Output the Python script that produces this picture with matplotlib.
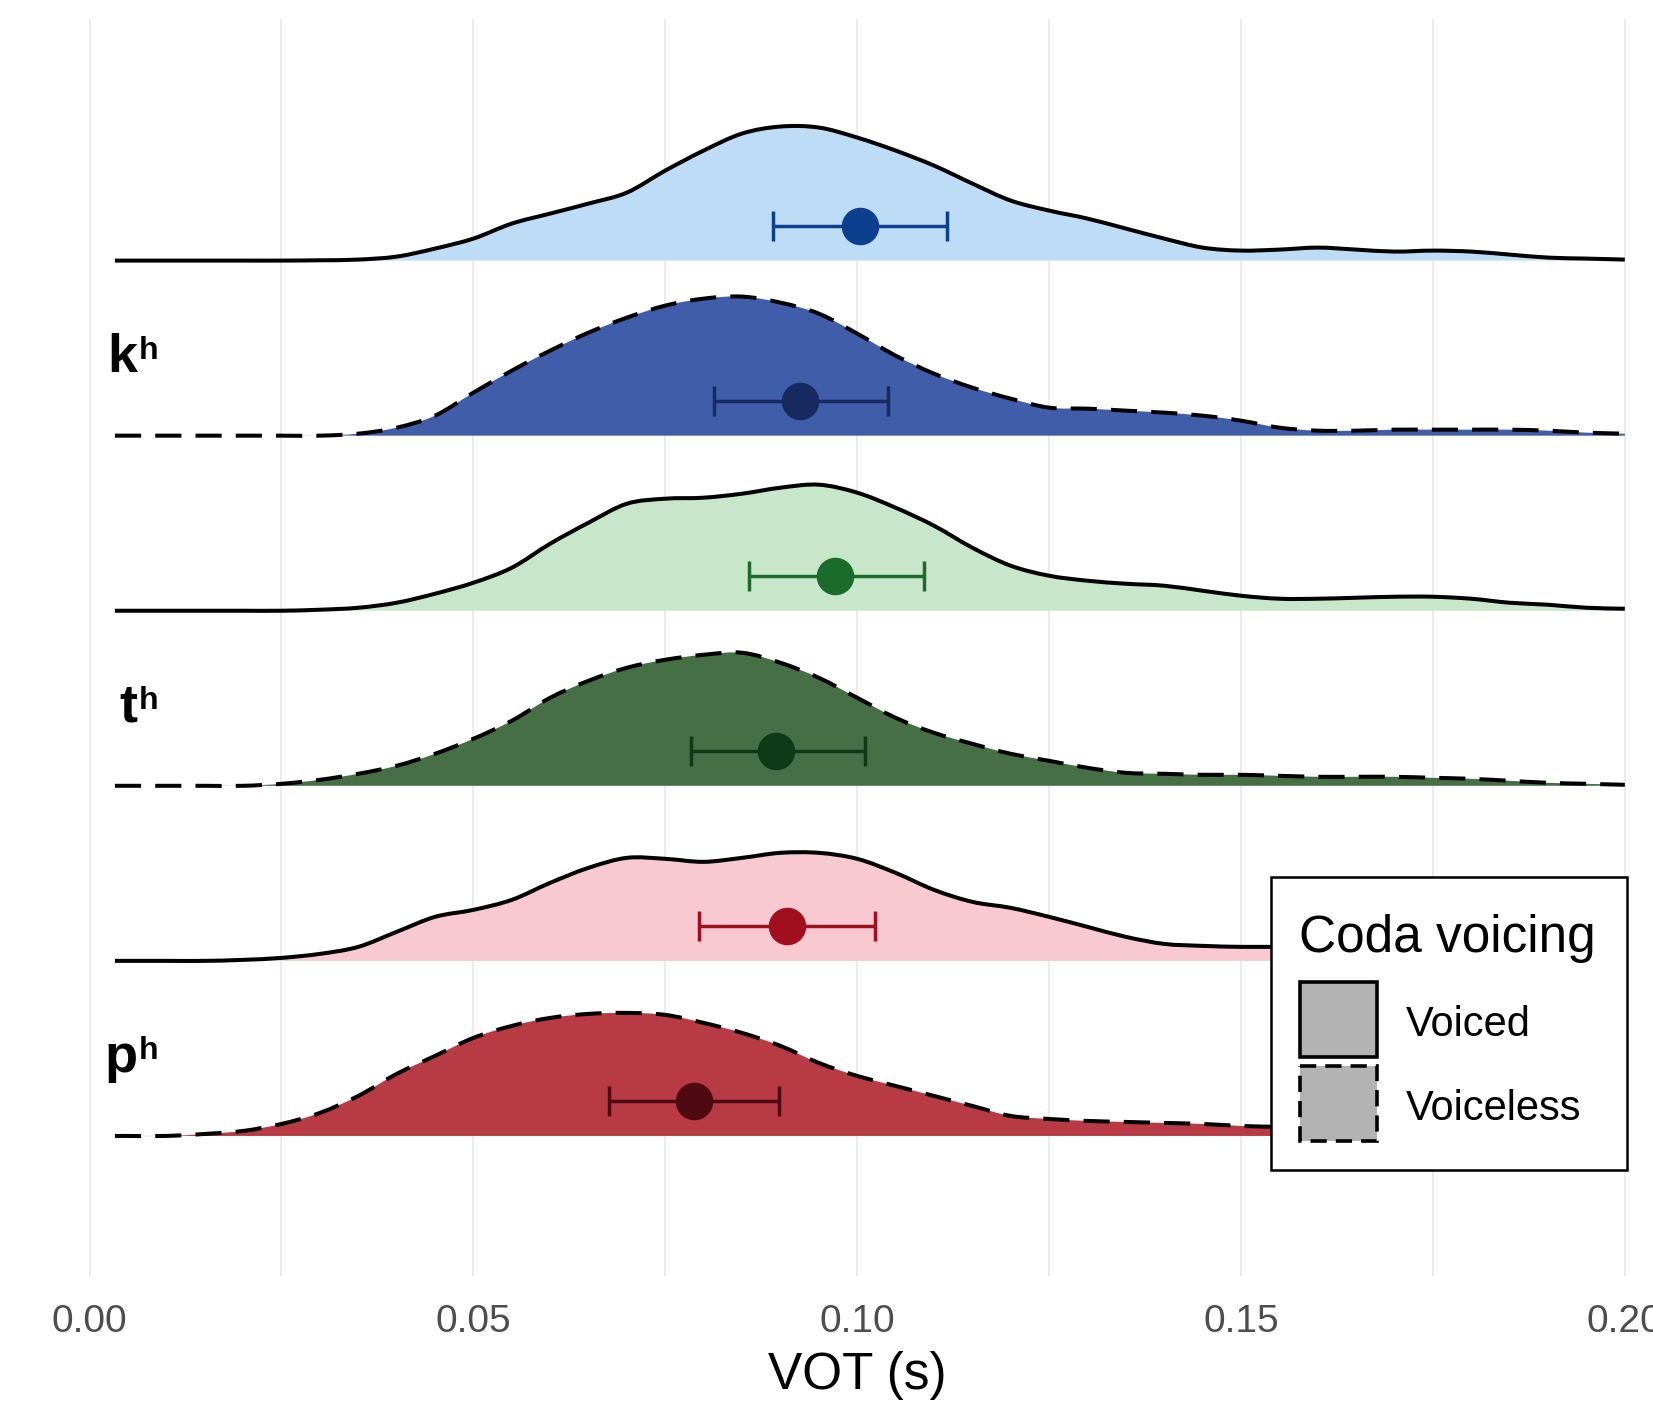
import matplotlib
matplotlib.use('Agg')
import matplotlib.pyplot as plt
from matplotlib.patches import Rectangle, PathPatch
from matplotlib.path import Path

plt.rcParams['font.family'] = ['Liberation Sans', 'DejaVu Sans']

# ---------------- data ----------------
vot = [0.0033, 0.005, 0.010, 0.015, 0.020, 0.025, 0.030, 0.035, 0.040, 0.045,
       0.050, 0.055, 0.060, 0.065, 0.070, 0.075, 0.080, 0.085, 0.090, 0.095,
       0.100, 0.105, 0.110, 0.115, 0.120, 0.125, 0.130, 0.135, 0.140, 0.145,
       0.150, 0.155, 0.160, 0.165, 0.170, 0.175, 0.180, 0.185, 0.190, 0.195, 0.200]

# ridge heights (relative density, 175 = one ridge spacing)
dens_k_voiced = [0, 0, 0, 0, 0, 0, 0.3, 1, 4, 12,
                 22, 37, 47, 57, 68, 90, 110, 127, 134, 133,
                 123, 110, 95, 77, 60, 50, 42, 32, 22, 13,
                 10, 11, 13, 11, 9, 10, 9, 6, 3, 2, 1]
dens_k_voiceless = [0, 0, 0, 0, 0, 0, 0, 2, 8, 20,
                    43, 65, 85, 103, 118, 130, 137, 139, 133, 122,
                    102, 80, 62, 48, 37, 28, 27, 25, 23, 20,
                    15, 8, 5, 5, 6, 6, 6, 6, 5, 3, 2]
dens_t_voiced = [0, 0, 0, 0, 0, 0, 1, 3, 8, 17,
                 28, 43, 67, 88, 107, 112, 113, 117, 123, 126,
                 118, 103, 85, 63, 45, 35, 30, 27, 25, 20,
                 15, 12, 12, 13, 14, 14, 12, 8, 6, 3, 2]
dens_t_voiceless = [0, 0, 0, 0, 0, 2, 6, 12, 20, 32,
                    47, 65, 88, 105, 118, 126, 131, 133, 123, 108,
                    88, 68, 53, 42, 32, 25, 18, 13, 12, 11,
                    11, 10, 9, 9, 9, 8, 7, 5, 3, 2, 1]
dens_p_voiced = [0, 0, 0, 0, 1, 3, 7, 14, 29, 44,
                 51, 61, 78, 93, 103, 102, 99, 103, 108, 108,
                 102, 88, 71, 59, 53, 44, 34, 24, 17, 15,
                 14, 14, 13, 12, 11, 10, 8, 6, 4, 3, 2]
dens_p_voiceless = [0, 0, 0, 2, 5, 12, 23, 40, 62, 80,
                    98, 110, 118, 122, 123, 121, 113, 103, 90, 73,
                    60, 50, 40, 30, 20, 17, 15, 14, 13, 12,
                    10, 9, 8, 7, 7, 6, 5, 4, 3, 2, 2]

ridge_density = [dens_k_voiced, dens_k_voiceless, dens_t_voiced,
                 dens_t_voiceless, dens_p_voiced, dens_p_voiceless]
ridge_voicing = ['Voiced', 'Voiceless', 'Voiced', 'Voiceless', 'Voiced', 'Voiceless']
ridge_fill = ['#BFDCF7', '#3F5DA8', '#C8E6C9', '#466F45', '#F9C9D1', '#B83A45']
point_color = ['#0D3F8F', '#172B60', '#1B6B2A', '#0F3A17', '#A10E1E', '#4D0A10']

mean_vot = [0.1004, 0.0926, 0.0971, 0.0894, 0.0908, 0.0787]
ci_low = [0.0890, 0.0813, 0.0859, 0.0783, 0.0794, 0.0677]
ci_high = [0.1117, 0.1040, 0.1087, 0.1010, 0.1023, 0.0898]

phonemes = ['k', 't', 'p']
xticks = [0.00, 0.05, 0.10, 0.15, 0.20]
xtick_labels = ['0.00', '0.05', '0.10', '0.15', '0.20']
minor_ticks = [0.025, 0.075, 0.125, 0.175]


def smooth_path_vertices(xs, ys):
    """Catmull-Rom curve through the given points as cubic Bezier segments."""
    verts = [(xs[0], ys[0])]
    codes = [Path.MOVETO]
    n = len(xs)
    for i in range(n - 1):
        x0, y0 = (xs[i - 1], ys[i - 1]) if i > 0 else (xs[i], ys[i])
        x1, y1 = xs[i], ys[i]
        x2, y2 = xs[i + 1], ys[i + 1]
        x3, y3 = (xs[i + 2], ys[i + 2]) if i + 2 < n else (x2, y2)
        c1 = (x1 + (x2 - x0) / 6, y1 + (y2 - y0) / 6)
        c2 = (x2 - (x3 - x1) / 6, y2 - (y3 - y1) / 6)
        verts += [c1, c2, (x2, y2)]
        codes += [Path.CURVE4] * 3
    return verts, codes


# ---------------- figure ----------------
W, H = 1653, 1405
fig = plt.figure(figsize=(W / 100, H / 100), dpi=100)
ax = fig.add_axes([0, 1 - 1276 / H, 1, (1276 - 19) / H])
xmin, xmax = -89.6 / 7676, (W - 89.6) / 7676
ax.set_xlim(xmin, xmax)
ax.set_ylim(-0.8, 6.38)

SPACING = 175.0
n = len(ridge_density)
for i, dens in enumerate(ridge_density):
    base = n - 1 - i
    top = [base + d / SPACING for d in dens]
    ls = '-' if ridge_voicing[i] == 'Voiced' else (0, (6.5, 3.5))
    verts, codes = smooth_path_vertices(vot, top)
    fill_verts = verts + [(vot[-1], base), (vot[0], base), verts[0]]
    fill_codes = codes + [Path.LINETO, Path.LINETO, Path.CLOSEPOLY]
    ax.add_patch(PathPatch(Path(fill_verts, fill_codes), facecolor=ridge_fill[i],
                           edgecolor='none', lw=0, zorder=2 + i * 0.1))
    ax.add_patch(PathPatch(Path(verts, codes), facecolor='none', edgecolor='black',
                           lw=2.9, ls=ls, zorder=3 + i * 0.1))
    m = mean_vot[i]
    ax.errorbar([m], [base + 0.2], xerr=[[m - ci_low[i]], [ci_high[i] - m]],
                fmt='o', ms=26, color=point_color[i], ecolor=point_color[i],
                elinewidth=2.5, capsize=11, capthick=2.5, zorder=5)

# phoneme labels
for j, ph in enumerate(phonemes):
    base = 4 - 2 * j
    ax.text(0.00625, base + 0.365, ph, fontsize=39, fontweight='bold',
            ha='right', va='baseline', zorder=6)
    ax.text(0.00640, base + 0.437, 'h', fontsize=23, fontweight='bold',
            ha='left', va='baseline', zorder=6)

ax.set_xticks(xticks)
ax.set_xticklabels(xtick_labels)
ax.set_xticks(minor_ticks, minor=True)
ax.set_yticks([])
ax.tick_params(axis='x', which='both', length=0, pad=20, labelsize=28,
               labelcolor='#4D4D4D')
ax.grid(True, which='both', axis='x', color='#EBEBEB', lw=1.4)
ax.set_axisbelow(True)
for s in ax.spines.values():
    s.set_visible(False)

ax.set_xlabel('VOT (s)', fontsize=37)
ax.xaxis.label.set_va('baseline')
ax.xaxis.set_label_coords((0.1 - xmin) / (xmax - xmin), -(1389 - 1276) / 1257)

# ---------------- legend (overlay in pixel coordinates) ----------------
ov = fig.add_axes([0, 0, 1, 1], zorder=10)
ov.set_xlim(0, W)
ov.set_ylim(H, 0)
ov.axis('off')
ov.add_patch(Rectangle((1271, 877), 356, 293, facecolor='white',
                       edgecolor='black', lw=1.8))
ov.text(1299, 952, 'Coda voicing', fontsize=37, ha='left', va='baseline')
legend_labels = ['Voiced', 'Voiceless']
legend_ls = ['-', (0, (4.5, 2.5))]
for k, lab in enumerate(legend_labels):
    y0 = 982 + k * 84
    ov.add_patch(Rectangle((1300, y0), 77, 75, facecolor='#B3B3B3',
                           edgecolor='black', lw=2.6, ls=legend_ls[k]))
    ov.text(1406, y0 + 38, lab, fontsize=30, ha='left', va='center_baseline')

fig.savefig('out.png', dpi=100)
